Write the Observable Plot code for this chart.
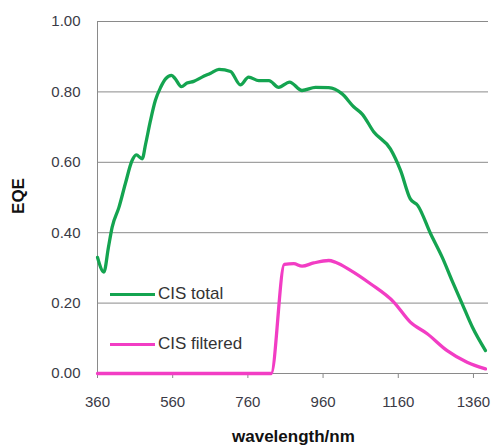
<!DOCTYPE html>
<html>
<head>
<meta charset="utf-8">
<script src="https://cdn.jsdelivr.net/npm/d3@7"></script>
<script src="https://cdn.jsdelivr.net/npm/@observablehq/plot@0.6"></script>
<style>
  body { margin: 0; background: #fff; font-family: "Liberation Sans", Arial, sans-serif; }
  #wrap { position: relative; width: 492px; height: 447px; }
  .leg { position: absolute; display: flex; align-items: center; font-size: 17px; color: #333; white-space: nowrap; }
  .leg span.sw { display: inline-block; width: 45px; height: 3px; margin-right: 3px; }
  .ttl { position: absolute; font-weight: bold; font-size: 17px; color: #111; white-space: nowrap; }
  svg g[aria-label="x-axis"] line, svg g[aria-label="x-axis tick"] path { stroke: #888; }
</style>
</head>
<body>
<div id="wrap"></div>
<script>
const totalNm = [360,377,389,399,417,434,452,463,479,488,501,514,528,541,557,567,583,598,616,638,661,683,714,740,762,789,816,842,871,904,940,975,1010,1042,1064,1095,1139,1166,1192,1212,1246,1277,1303,1330,1357,1392];
const totalEQE = [0.330,0.288,0.358,0.416,0.472,0.539,0.605,0.621,0.610,0.652,0.719,0.776,0.813,0.837,0.847,0.837,0.815,0.825,0.830,0.842,0.853,0.864,0.858,0.820,0.842,0.832,0.832,0.813,0.828,0.804,0.813,0.812,0.795,0.757,0.737,0.686,0.638,0.577,0.496,0.477,0.397,0.330,0.264,0.198,0.132,0.065];
const filtNm = [360,822,857,882,904,935,975,993,1033,1086,1148,1192,1237,1290,1343,1392];
const filtEQE = [0,0,0.310,0.312,0.305,0.314,0.321,0.316,0.293,0.255,0.203,0.146,0.113,0.065,0.032,0.013];
const xTicks = [360,560,760,960,1160,1360];
const yTicks = [0,0.2,0.4,0.6,0.8,1.0];
const seriesNames = ["CIS total","CIS filtered"];
const colors = ["#14a450","#f23dc4"];

const total = totalNm.map((x,i)=>({x, y: totalEQE[i]}));
const filt = filtNm.map((x,i)=>({x, y: filtEQE[i]}));

const chart = Plot.plot({
  width: 492, height: 447,
  marginLeft: 97, marginRight: 4, marginTop: 21, marginBottom: 74,
  style: { fontSize: "15px", fontFamily: "Liberation Sans, Arial, sans-serif", color: "#3a3a46", background: "#fff" },
  x: { domain: [360,1400], ticks: xTicks, tickSize: 5, tickPadding: 18, label: null, tickFormat: d3.format("d") },
  y: { domain: [0,1], ticks: yTicks, tickSize: 0, tickPadding: 17, label: null, tickFormat: d3.format(".2f") },
  marks: [
    Plot.ruleY(yTicks, { stroke: "#8a8a8a", strokeWidth: 1 }),
    Plot.ruleX([360], { stroke: "#8a8a8a", strokeWidth: 1 }),
    Plot.line(total, { x: "x", y: "y", stroke: colors[0], strokeWidth: 3.3, curve: "monotone-x" }),
    Plot.line(filt, { x: "x", y: "y", stroke: colors[1], strokeWidth: 3.3, curve: "monotone-x" })
  ]
});
const wrap = document.getElementById("wrap");
wrap.appendChild(chart);

const legTops = [294, 344];
seriesNames.forEach((n,i)=>{
  const d = document.createElement("div");
  d.className = "leg";
  d.style.left = "110px";
  d.style.top = (legTops[i]-10) + "px";
  d.style.height = "20px";
  d.innerHTML = `<span class="sw" style="background:${colors[i]}"></span>${n}`;
  wrap.appendChild(d);
});
const yl = document.createElement("div");
yl.className = "ttl";
yl.textContent = "EQE";
yl.style.left = "1px"; yl.style.top = "186px";
yl.style.transform = "rotate(-90deg)";
wrap.appendChild(yl);
const xl = document.createElement("div");
xl.className = "ttl";
xl.textContent = "wavelength/nm";
xl.style.left = "232px"; xl.style.top = "427px";
wrap.appendChild(xl);
</script>
</body>
</html>
